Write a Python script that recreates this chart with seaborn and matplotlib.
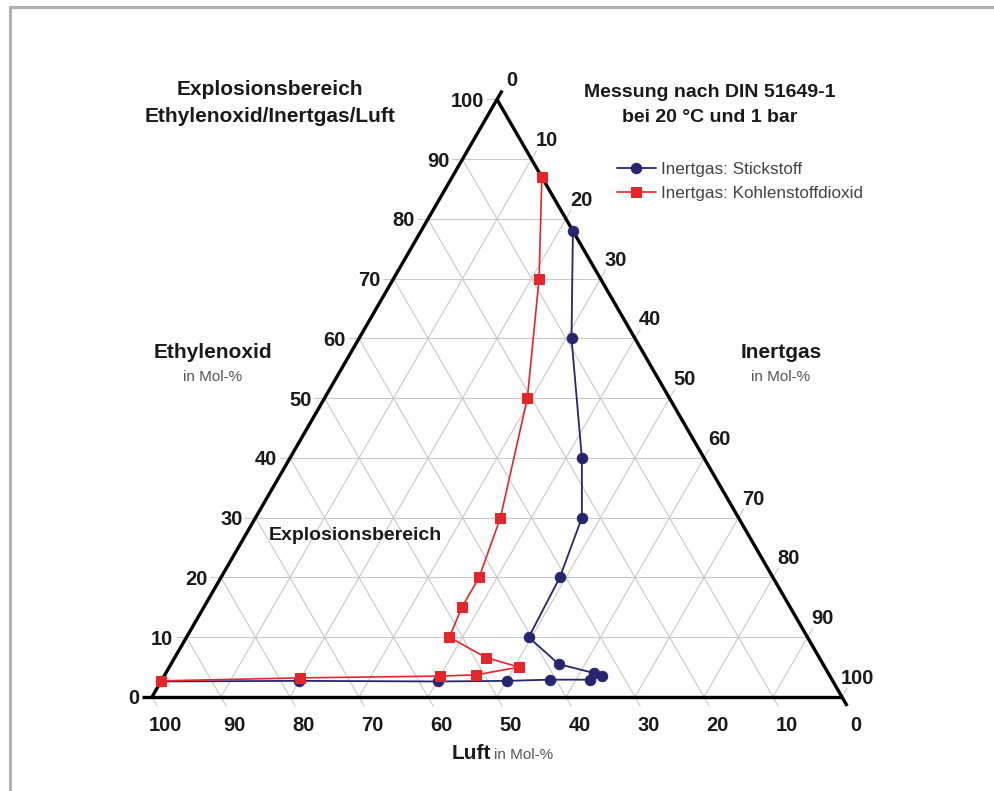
import numpy as np
import pandas as pd
import seaborn as sns
import matplotlib.pyplot as plt
from matplotlib.lines import Line2D

# Explosionsgrenzen in Mol-%, Luft = Rest
n2_ethylenoxid = [78, 60, 40, 30, 20, 10, 5.5, 4.0, 3.5, 2.9, 2.9, 2.7, 2.6, 2.7, 2.6]
n2_inertgas = [22, 30.8, 42.3, 47.3, 49.1, 49.6, 56.2, 62.1, 63.5, 62.1, 56.2, 50.1, 40.1, 20.0, 0]

co2_ethylenoxid = [87, 70, 50, 30, 20, 15, 10, 6.6, 5.0, 3.7, 3.5, 3.2, 2.7]
co2_inertgas = [13, 21.1, 29.4, 35.5, 37.4, 37.4, 38.1, 45.1, 50.7, 45.1, 40.0, 19.9, 0]

series_labels = ['Inertgas: Stickstoff', 'Inertgas: Kohlenstoffdioxid']
tick_values = [0, 10, 20, 30, 40, 50, 60, 70, 80, 90, 100]

W, H = 994, 791
S = 6.9            # px pro Einheit
X0, Y0 = 152, 697  # linke untere Ecke in px
R3 = np.sqrt(3) / 2

BLUE = '#26266f'
RED = '#e4262b'
GRID = '#c8c8c8'


def to_xy(e, i):
    e = np.asarray(e, dtype=float)
    i = np.asarray(i, dtype=float)
    return i + e / 2, e * R3


def px(x, y):
    return x / W, 1 - y / H


def main():
    sns.set_style('white')
    plt.rcParams['font.family'] = ['Liberation Sans', 'DejaVu Sans']

    fig = plt.figure(figsize=(W / 100, H / 100), dpi=100)
    ax = fig.add_axes([0, 0, 1, 1])

    # Gitter
    for v in tick_values[1:-1]:
        ax.plot(*to_xy([v, v], [0, 100 - v]), color=GRID, lw=0.8, zorder=1)
        ax.plot(*to_xy([0, 100 - v], [v, v]), color=GRID, lw=0.8, zorder=1)
        ax.plot(*to_xy([0, 100 - v], [100 - v, 0]), color=GRID, lw=0.8, zorder=1)

    t = 1.5
    up_right = np.array([0.5, R3])
    down_right = np.array([0.5, -R3])
    for v in tick_values:
        # Ethylenoxid links
        x, y = to_xy(v, 0)
        if v > 0:
            ax.plot([x, x - t], [y, y], color=GRID, lw=0.8, zorder=1)
        ax.text(x - 1.9, y, str(v), ha='right', va='center_baseline',
                fontsize=14.5, fontweight='bold', color='#1a1a1a')
        # Inertgas rechts
        x, y = to_xy(100 - v, v)
        if v > 0:
            ax.plot([x, x + t * up_right[0]], [y, y + t * up_right[1]],
                    color=GRID, lw=0.8, zorder=1)
        ax.text(x + 2.2, y + 3.0, str(v), ha='center', va='center_baseline',
                fontsize=14.5, fontweight='bold', color='#1a1a1a')
        # Luft unten
        x, y = to_xy(0, 100 - v)
        if v > 0:
            ax.plot([x, x + t * down_right[0]], [y, y + t * down_right[1]],
                    color=GRID, lw=0.8, zorder=1)
        ax.text(x + 2.0, y - 3.9, str(v), ha='center', va='center_baseline',
                fontsize=14.5, fontweight='bold', color='#1a1a1a')

    # Dreieck mit verlaengerten Kanten
    L, Rv, T = np.array(to_xy(0, 0)), np.array(to_xy(0, 100)), np.array(to_xy(100, 0))
    ax.plot([L[0] - t, Rv[0]], [L[1], Rv[1]], color='black', lw=2.4, zorder=3,
            solid_capstyle='butt')
    tip = T + t * up_right
    ax.plot([L[0], tip[0]], [L[1], tip[1]], color='black', lw=2.4, zorder=3,
            solid_capstyle='butt')
    tip = Rv + t * down_right
    ax.plot([T[0], tip[0]], [T[1], tip[1]], color='black', lw=2.4, zorder=3,
            solid_capstyle='butt')

    # Messreihen
    x, y = to_xy(n2_ethylenoxid, n2_inertgas)
    df_n2 = pd.DataFrame({'x': x, 'y': y})
    sns.lineplot(data=df_n2, x='x', y='y', sort=False, estimator=None,
                 marker='o', markersize=7.5, color=BLUE, markeredgecolor=BLUE,
                 linewidth=1.3, label=series_labels[0], ax=ax, zorder=4)

    x, y = to_xy(co2_ethylenoxid, co2_inertgas)
    df_co2 = pd.DataFrame({'x': x, 'y': y})
    sns.lineplot(data=df_co2, x='x', y='y', sort=False, estimator=None,
                 marker='s', markersize=7.5, color=RED, markeredgecolor=RED,
                 linewidth=1.2, label=series_labels[1], ax=ax, zorder=5)

    ax.set_xlim(-X0 / S, (W - X0) / S)
    ax.set_ylim(-(H - Y0) / S, Y0 / S)
    ax.axis('off')

    ax.legend(loc='upper left', bbox_to_anchor=px(610, 155), frameon=False,
              fontsize=12.3, handlelength=2.3, handletextpad=0.3,
              labelspacing=0.55, borderaxespad=0, labelcolor='#444444')

    # Beschriftungen
    tr = ax.transAxes
    ax.text(*px(270, 103), 'Explosionsbereich\nEthylenoxid/Inertgas/Luft',
            transform=tr, ha='center', va='center', multialignment='center',
            fontsize=15, fontweight='bold', color='#1a1a1a', linespacing=1.5)
    ax.text(*px(710, 105), 'Messung nach DIN 51649-1\nbei 20 °C und 1 bar',
            transform=tr, ha='center', va='center', multialignment='center',
            fontsize=14, fontweight='bold', color='#1a1a1a', linespacing=1.55)
    ax.text(*px(355, 536), 'Explosionsbereich', transform=tr, ha='center',
            va='center', fontsize=14, fontweight='bold', color='#1a1a1a')

    ax.text(*px(213, 352), 'Ethylenoxid', transform=tr, ha='center',
            va='center', fontsize=15, fontweight='bold', color='#1a1a1a')
    ax.text(*px(213, 377), 'in Mol-%', transform=tr, ha='center',
            va='center', fontsize=11, color='#555555')
    ax.text(*px(781, 352), 'Inertgas', transform=tr, ha='center',
            va='center', fontsize=15, fontweight='bold', color='#1a1a1a')
    ax.text(*px(781, 377), 'in Mol-%', transform=tr, ha='center',
            va='center', fontsize=11, color='#555555')
    ax.text(*px(491, 759), 'Luft', transform=tr, ha='right',
            va='baseline', fontsize=15, fontweight='bold', color='#1a1a1a')
    ax.text(*px(494, 759), 'in Mol-%', transform=tr, ha='left',
            va='baseline', fontsize=11, color='#555555')

    # Rahmen
    fig.add_artist(Line2D([10 / W, 10 / W], [0, 1 - 7 / H], color='#b0b0b0',
                          lw=2.2, transform=fig.transFigure))
    fig.add_artist(Line2D([10 / W, 1], [1 - 7 / H, 1 - 7 / H], color='#b0b0b0',
                          lw=2.2, transform=fig.transFigure))

    plt.savefig('out.png', dpi=100)


if __name__ == '__main__':
    main()
